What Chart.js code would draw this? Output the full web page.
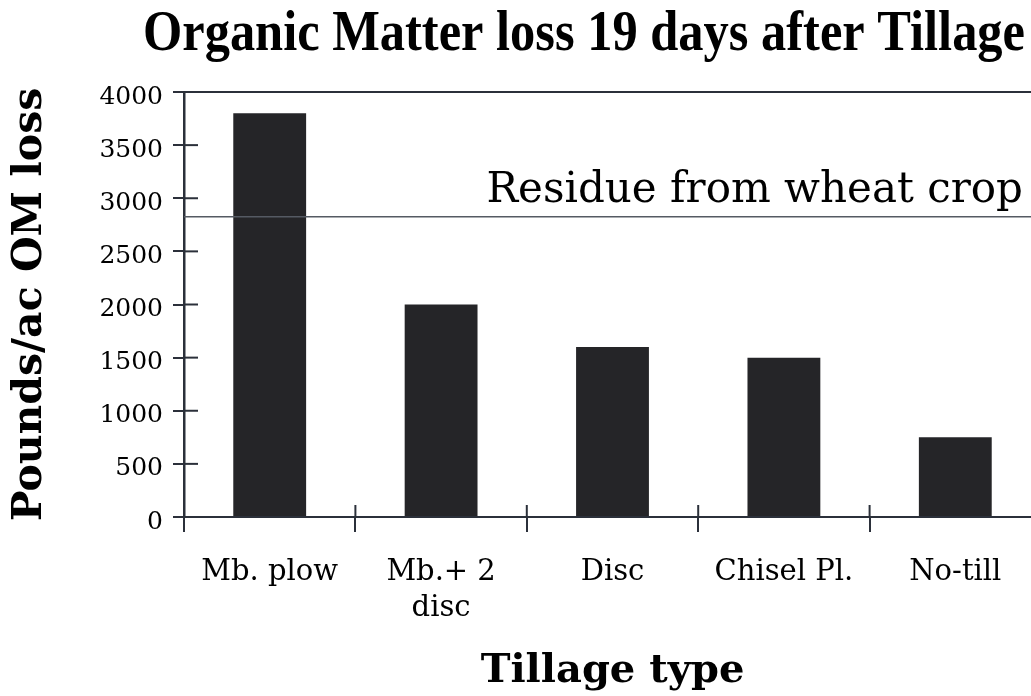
<!DOCTYPE html>
<html>
<head>
<meta charset="utf-8">
<title>Organic Matter loss 19 days after Tillage</title>
<script src="https://cdn.jsdelivr.net/npm/chart.js@4/dist/chart.umd.min.js"></script>
<style>
    html, body { margin: 0; padding: 0; background: #fff; overflow: hidden; }
    #wrap { position: relative; width: 1060px; height: 696px; }
</style>
</head>
<body>
<div id="wrap"><canvas id="omChart"></canvas></div>
<script>
// Chart data
const tillageTypes = ['Mb. plow', ['Mb.+ 2', 'disc'], 'Disc', 'Chisel Pl.', 'No-till'];
const omLoss = [3800, 2000, 1600, 1500, 750];
const yTickValues = [0, 500, 1000, 1500, 2000, 2500, 3000, 3500, 4000];
const residueLevel = 2825;
const residueLabel = 'Residue from wheat crop';
const chartTitle = 'Organic Matter loss 19 days after Tillage';
const yTitle = 'Pounds/ac OM loss';
const xTitle = 'Tillage type';

const inkColor = '#2b303a';
const barColor = '#252528';

// Extra drawing: title, top frame line, inner tick halves, residue line
const scanDecor = {
    id: 'scanDecor',
    afterDraw(chart) {
        const ctx = chart.ctx;
        const area = chart.chartArea;
        const xs = chart.scales.x;
        const ys = chart.scales.y;

        ctx.save();
        ctx.strokeStyle = inkColor;

        // top frame line
        ctx.lineWidth = 2;
        ctx.beginPath();
        ctx.moveTo(area.left - 10, area.top);
        ctx.lineTo(chart.width, area.top);
        ctx.stroke();

        // y ticks cross the axis
        yTickValues.forEach(v => {
            if (v === 0 || v === 4000) return;
            const y = ys.getPixelForValue(v);
            ctx.beginPath();
            ctx.moveTo(area.left, y);
            ctx.lineTo(area.left + 14, y);
            ctx.stroke();
        });

        // x ticks cross the axis
        for (let i = 1; i <= tillageTypes.length; i++) {
            const x = i < tillageTypes.length
                ? (xs.getPixelForValue(i - 1) + xs.getPixelForValue(i)) / 2
                : area.right;
            ctx.beginPath();
            ctx.moveTo(x, area.bottom);
            ctx.lineTo(x, area.bottom - 12);
            ctx.stroke();
        }

        // residue line + label
        const ry = ys.getPixelForValue(residueLevel);
        ctx.strokeStyle = '#555a63';
        ctx.lineWidth = 1.5;
        ctx.beginPath();
        ctx.moveTo(area.left, ry);
        ctx.lineTo(chart.width, ry);
        ctx.stroke();

        ctx.fillStyle = '#000';
        ctx.font = '42px "DejaVu Serif"';
        ctx.textAlign = 'right';
        ctx.textBaseline = 'alphabetic';
        ctx.fillText(residueLabel, 1023, ry - 15);

        // title, squeezed to the condensed width of the original
        ctx.font = 'bold 56px "Liberation Serif"';
        const w = ctx.measureText(chartTitle).width;
        const sx = 882 / w;
        ctx.translate(584, 50);
        ctx.scale(sx, 1);
        ctx.textAlign = 'center';
        ctx.fillText(chartTitle, 0, 0);

        ctx.restore();
    }
};

const omChart = new Chart(document.getElementById('omChart'), {
    type: 'bar',
    data: {
        labels: tillageTypes,
        datasets: [{
            label: 'OM loss',
            data: omLoss,
            backgroundColor: barColor,
            borderWidth: 0,
            barPercentage: 0.425,
            categoryPercentage: 1.0
        }]
    },
    options: {
        responsive: true,
        maintainAspectRatio: false,
        animation: false,
        devicePixelRatio: 1,
        layout: {
            padding: { top: 92, right: 19, bottom: 0, left: 0 }
        },
        plugins: {
            legend: { display: false },
            tooltip: { enabled: false },
            title: { display: false }
        },
        scales: {
            x: {
                offset: true,
                afterFit: scale => { scale.height = 179; },
                grid: {
                    display: true,
                    offset: true,
                    drawOnChartArea: false,
                    drawTicks: true,
                    tickLength: 15,
                    color: inkColor,
                    lineWidth: 2
                },
                border: { display: true, color: inkColor, width: 2 },
                ticks: {
                    color: '#000',
                    padding: 22,
                    maxRotation: 0,
                    font: { family: 'DejaVu Serif', size: 29, lineHeight: 1.25 }
                },
                title: {
                    display: true,
                    text: xTitle,
                    color: '#000',
                    font: { family: 'DejaVu Serif', size: 40, weight: 'bold', lineHeight: 1 },
                    padding: { top: 0, bottom: 4 }
                }
            },
            y: {
                min: 0,
                max: 4000,
                afterFit: scale => { scale.width = 184; },
                afterBuildTicks: scale => {
                    scale.ticks = yTickValues.map(v => ({ value: v }));
                },
                grid: {
                    display: true,
                    drawOnChartArea: false,
                    drawTicks: true,
                    tickLength: 11,
                    color: inkColor,
                    lineWidth: 2
                },
                border: { display: true, color: inkColor, width: 2.5 },
                ticks: {
                    color: '#000',
                    padding: 10,
                    labelOffset: 5,
                    callback: v => String(v),
                    font: { family: 'DejaVu Serif', size: 25 }
                },
                title: {
                    display: true,
                    text: yTitle,
                    color: '#000',
                    font: { family: 'DejaVu Serif', size: 41, weight: 'bold', lineHeight: 1 },
                    padding: { top: 10, bottom: 0 }
                }
            }
        }
    },
    plugins: [scanDecor]
});
</script>
</body>
</html>
